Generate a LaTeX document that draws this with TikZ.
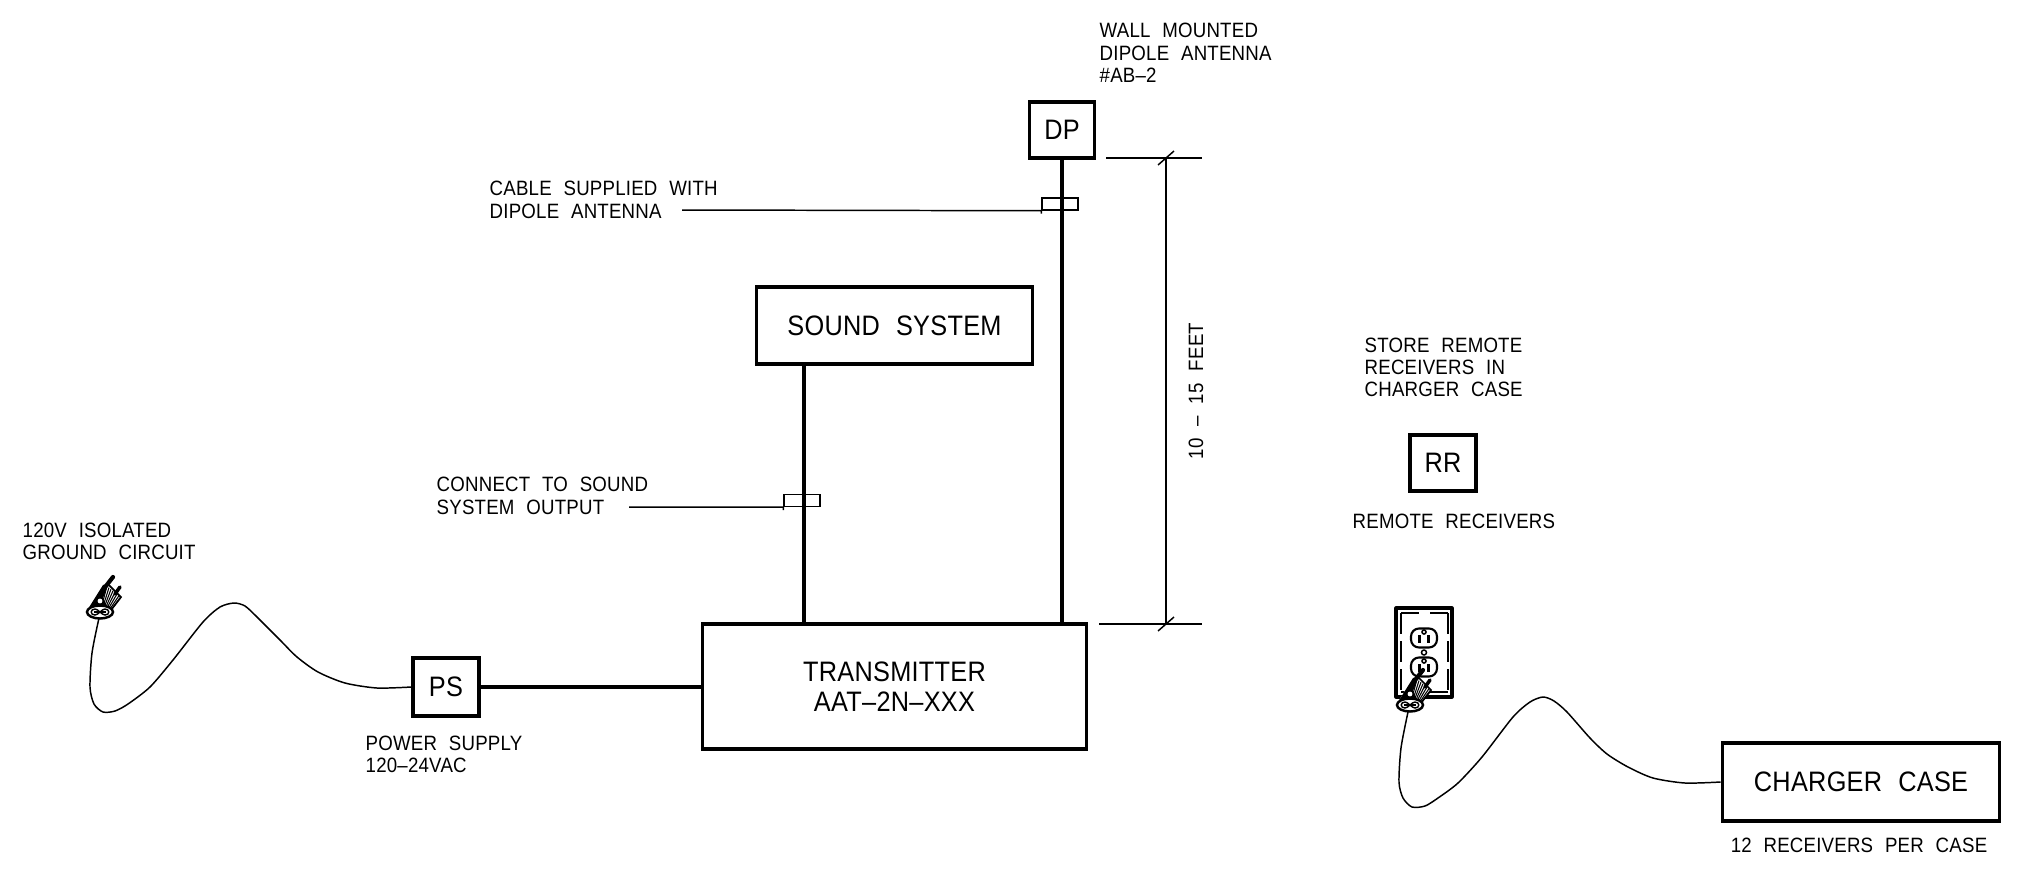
\documentclass[tikz,border=0pt]{standalone}
\usepackage{fontspec}
\setmainfont[FakeStretch=0.9, LetterSpace=1, WordSpace=2.2]{Liberation Sans}
\usepackage{tikz}

\tikzset{
  bigbox/.style={draw, line width=1pt, rectangle, inner sep=0pt, font=\fontsize{8}{8.6}\selectfont, align=center},
  wire/.style={line width=1.15pt},
  thin line/.style={line width=0.42pt},
  cord/.style={line width=0.42pt},
  sleeve/.style={draw, line width=0.42pt, rectangle, inner sep=0pt, minimum width=36*0.2835pt, minimum height=12*0.2835pt},
  note/.style={anchor=west, inner sep=0pt, align=left, font=\fontsize{5.9}{6.35}\selectfont},
  plug/.pic={
    \fill[white] (-12,-3) -- (3,-27) -- (9,-29) -- (21,-15) -- (11,-2) -- cycle;
    \fill (-12,-3) -- (3,-27) -- (9,-29) -- (3,-14) -- (8,-3) -- cycle;
    \draw[line width=1.2pt, line cap=round] (6,-26) -- (13,-35);
    \draw[line width=1pt, line cap=round] (15,-18) -- (20,-25);
    \foreach \i in {0,...,7}
      \draw[line width=0.3pt] ({7+2*\i},{-26+1.6*\i}) -- ({2+1.3*\i},{-7+0.7*\i});
    \draw[line width=0.5pt] (9,-27) -- (21,-15) -- (11,-2);
    \fill[white] (0,-11) circle (2.4);
    \filldraw[fill=white, line width=0.7pt] (0,0) ellipse (13 and 6.5);
    \draw[line width=0.4pt] (-5,-3) .. controls (-10,-3) and (-10,3) .. (-5,3) .. controls (-2,3) and (2,-3) .. (5,-3) .. controls (10,-3) and (10,3) .. (5,3) .. controls (2,3) and (-2,-3) .. (-5,-3);
    \draw[line width=0.4pt] (-6,0) -- (6,0);
  },
  socket/.pic={
    \draw[line width=0.6pt, rounded corners=8*0.2835pt] (-13,-9.5) rectangle (13,9.5);
    \fill (-6,-3) rectangle (-3,5);
    \fill (3,-3) rectangle (6,5);
    \draw[line width=0.45pt] (0,-6) circle (2);
  }
}

\begin{document}
\begin{tikzpicture}[x=0.01cm, y=-0.01cm]
  \useasboundingbox (0,0) rectangle (2017,893);

  \node[bigbox, minimum width=65*0.2835pt, minimum height=56*0.2835pt] (dp) at (1062,130) {DP};
  \node[bigbox, minimum width=277*0.2835pt, minimum height=77*0.2835pt] (ss) at (894.5,325.5) {SOUND SYSTEM};
  \node[bigbox, minimum width=385*0.2835pt, minimum height=125*0.2835pt] (tx) at (894.5,686.5) {TRANSMITTER\\AAT--2N--XXX};
  \node[bigbox, minimum width=66*0.2835pt, minimum height=58*0.2835pt] (ps) at (446,687) {PS};
  \node[bigbox, minimum width=66*0.2835pt, minimum height=56*0.2835pt] (rr) at (1443,463) {RR};
  \node[bigbox, minimum width=278*0.2835pt, minimum height=78*0.2835pt] (cc) at (1861,782) {CHARGER CASE};

  \coordinate (ssout) at (804,364);
  \draw[wire] (dp.south) -- (dp.south |- tx.north);
  \draw[wire] (ssout) -- (ssout |- tx.north);
  \draw[wire] (ps.east) -- (ps.east -| tx.west);

  \node[sleeve] (dpsleeve) at (1060,204) {};
  \node[sleeve] (sssleeve) at (802,500.5) {};
  \coordinate (dplead) at (682,210);
  \coordinate (sslead) at (629,507);
  \draw[thin line] (dplead) -- (dpsleeve.south west) -- ++(0,3);
  \draw[thin line] (sslead) -- (sssleeve.south west) -- ++(0,3);

  \coordinate (dimtop) at (1166,158);
  \coordinate (dimbot) at (1166,624);
  \draw[thin line] (1106,158) -- (1202,158);
  \draw[thin line] (1099,624) -- (1202,624);
  \draw[thin line] (dimtop) -- (dimbot);
  \draw[thin line] ([xshift=-8*0.2835pt, yshift=-7*0.2835pt]dimtop) -- ([xshift=8*0.2835pt, yshift=7*0.2835pt]dimtop);
  \draw[thin line] ([xshift=-8*0.2835pt, yshift=-7*0.2835pt]dimbot) -- ([xshift=8*0.2835pt, yshift=7*0.2835pt]dimbot);

  \node[note] (wall) at (1099,53) {WALL MOUNTED\\DIPOLE ANTENNA\\\#AB--2};
  \node[note] (cable) at (489,200) {CABLE SUPPLIED WITH\\DIPOLE ANTENNA};
  \node[note] (connect) at (436,496) {CONNECT TO SOUND\\SYSTEM OUTPUT};
  \node[note] (ground) at (22,541.5) {120V ISOLATED\\GROUND CIRCUIT};
  \node[note] (supply) at (365,754.5) {POWER SUPPLY\\120--24VAC};
  \node[note] (store) at (1364,367.5) {STORE REMOTE\\RECEIVERS IN\\CHARGER CASE};
  \node[note] (remote) at (1352,521) {REMOTE RECEIVERS};
  \node[note, anchor=center] (twelve) at (1859,845) {12 RECEIVERS PER CASE};
  \node[note, anchor=center, rotate=90] (feet) at (1196,391) {10 -- 15 FEET};

  \pic at (100,612) {plug};
  \coordinate (plugA) at (99,618);
  \draw[cord] plot[smooth, tension=0.45] coordinates {(plugA) (92,653) (90,687) (94,704) (103,712) (115,711) (128,704) (150,687) (173,660) (203,622) (220,607) (234,603) (245,606) (257,617) (280,640) (297,657) (318,672) (345,683) (377,688) (ps.west)};

  \draw[line width=0.9pt, line join=round] (1396,608) rectangle (1452,697);
  \draw[line width=0.42pt] (1401,613) -- (1419,613);
  \draw[line width=0.42pt] (1430,613) -- (1448,613);
  \draw[line width=0.42pt] (1401,692) -- (1448,692);
  \draw[line width=0.42pt, dash pattern=on 6pt off 2pt] (1401,613) -- (1401,692);
  \draw[line width=0.42pt, dash pattern=on 6pt off 2pt] (1448,613) -- (1448,692);
  \pic at (1424,638) {socket};
  \pic at (1424,667) {socket};
  \draw[line width=0.42pt] (1424,652.5) circle (2.5);

  \pic at (1410,705) {plug};
  \coordinate (plugB) at (1408,712);
  \draw[cord] plot[smooth, tension=0.45] coordinates {(plugB) (1401,748) (1399,782) (1403,798) (1412,807) (1425,806) (1438,798) (1458,783) (1482,757) (1513,717) (1530,702) (1543,697) (1554,701) (1567,712) (1590,738) (1607,754) (1628,767) (1653,778) (1685,783) (cc.west)};
\end{tikzpicture}
\end{document}
